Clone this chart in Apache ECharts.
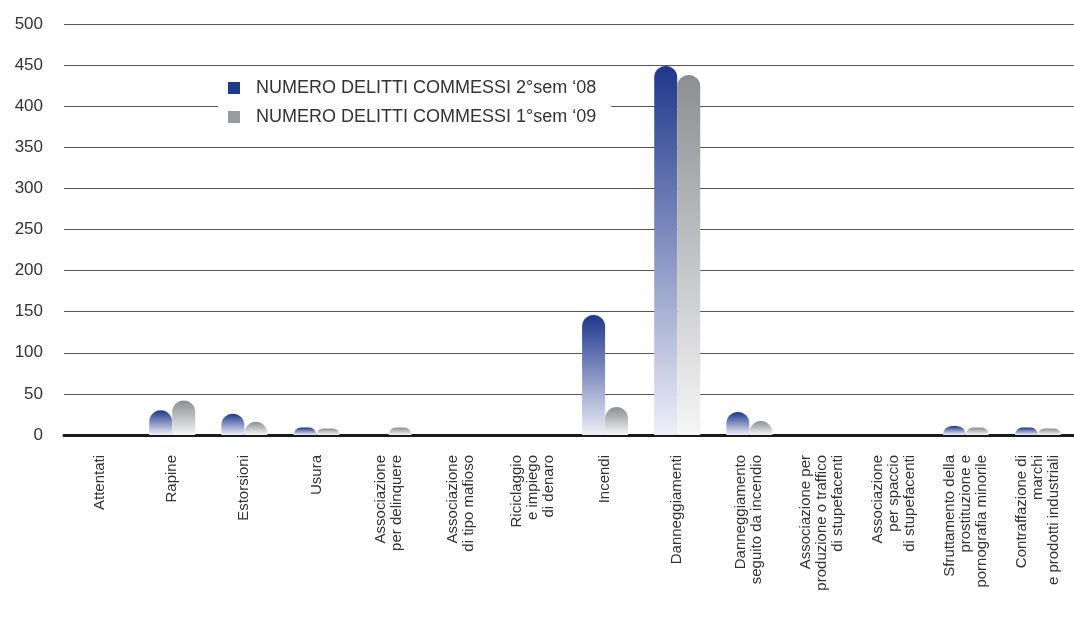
<!DOCTYPE html>
<html>
<head>
<meta charset="utf-8">
<script src="https://cdn.jsdelivr.net/npm/echarts@6/dist/echarts.min.js"></script>
<style>
  html, body { margin: 0; padding: 0; background: #fff; }
  #chart { width: 1074px; height: 621px; }
</style>
</head>
<body>
<div id="chart"></div>
<script>
// Reati per tipologia: confronto tra due semestri
const categories = [
  'Attentati',
  'Rapine',
  'Estorsioni',
  'Usura',
  'Associazione\nper delinquere',
  'Associazione\ndi tipo mafioso',
  'Riciclaggio\ne impiego\ndi denaro',
  'Incendi',
  'Danneggiamenti',
  'Danneggiamento\nseguito da incendio',
  'Associazione per\nproduzione o traffico\ndi stupefacenti',
  'Associazione\nper spaccio\ndi stupefacenti',
  'Sfruttamento della\nprostituzione e\npornografia minorile',
  'Contraffazione di\nmarchi\ne prodotti industriali'
];
const seriesNames = ['NUMERO DELITTI COMMESSI 2°sem ‘08', 'NUMERO DELITTI COMMESSI 1°sem ‘09'];
const sem2_08 = [0, 30, 26, 9, 0, 0, 0, 146, 449, 28, 0, 0, 11, 9];
const sem1_09 = [0, 42, 16, 8, 9, 0, 0, 34, 438, 17, 0, 0, 9, 8];
const yTicks = { min: 0, max: 500, interval: 50 };

const font = '"Liberation Sans", Arial, Helvetica, sans-serif';

function vGrad(top, bottom) {
  return new echarts.graphic.LinearGradient(0, 0, 0, 1, [
    { offset: 0, color: top },
    { offset: 1, color: bottom }
  ]);
}

const chart = echarts.init(document.getElementById('chart'));
chart.setOption({
  animation: false,
  backgroundColor: '#ffffff',
  textStyle: { fontFamily: font },
  grid: { left: 64, right: 0, top: 24, bottom: 186, containLabel: false },
  legend: {
    orient: 'vertical',
    left: 218,
    top: 73,
    backgroundColor: '#ffffff',
    padding: [6, 15, 6, 10],
    itemWidth: 12,
    itemHeight: 12,
    itemGap: 11,
    icon: 'rect',
    textStyle: { fontSize: 18, color: '#333', fontFamily: font, padding: [0, 0, 0, 11] },
    data: [
      { name: seriesNames[0], itemStyle: { color: '#1f3a8f' } },
      { name: seriesNames[1], itemStyle: { color: '#9a9b9e' } }
    ]
  },
  xAxis: {
    type: 'category',
    data: categories,
    axisTick: { show: false },
    axisLine: { show: true, lineStyle: { color: '#1a1a1a', width: 3 } },
    axisLabel: {
      interval: 0,
      rotate: 90,
      margin: 20,
      fontSize: 15,
      lineHeight: 16,
      color: '#333',
      fontFamily: font
    }
  },
  yAxis: {
    type: 'value',
    min: yTicks.min,
    max: yTicks.max,
    interval: yTicks.interval,
    axisLine: { show: false },
    axisTick: { show: false },
    axisLabel: { fontSize: 17, color: '#333', margin: 21, fontFamily: font },
    splitLine: { show: true, lineStyle: { color: '#555', width: 1 } }
  },
  series: [
    {
      name: seriesNames[0],
      type: 'bar',
      data: sem2_08,
      barWidth: 23,
      barGap: '0%',
      itemStyle: {
        color: vGrad('#1e378c', '#eeeff8'),
        borderRadius: [12, 12, 0, 0]
      }
    },
    {
      name: seriesNames[1],
      type: 'bar',
      data: sem1_09,
      barWidth: 23,
      barGap: '0%',
      itemStyle: {
        color: vGrad('#8c8e93', '#f6f6f6'),
        borderRadius: [12, 12, 0, 0]
      }
    }
  ]
});
</script>
</body>
</html>
